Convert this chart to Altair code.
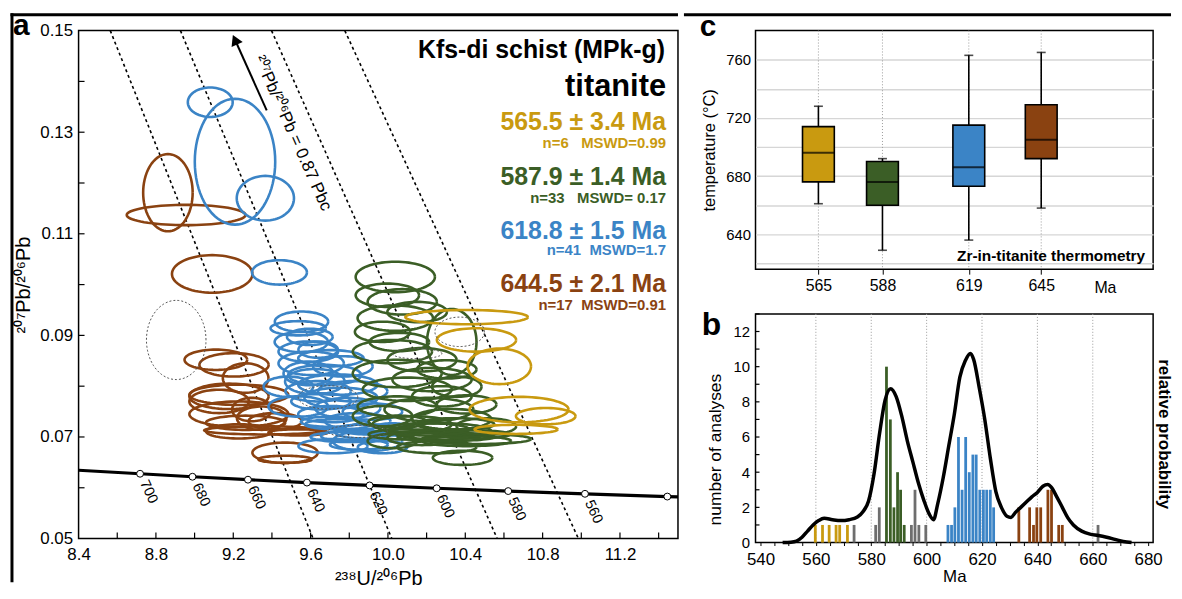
import altair as alt
import numpy as np
import pandas as pd

FONT = "Liberation Sans"
GOLD = "#C99A10"
GREEN = "#3B5E26"
BLUE = "#3B84C6"
BROWN = "#8A4211"
GREYBAR = "#6E6E6E"

# ---------------- panel a : U-Pb data (238U/206Pb, 207Pb/206Pb, 2s semi-axes) ----------------
brown_cx = [8.862, 8.956, 9.091, 9.110, 9.204, 9.264, 9.229, 9.178, 9.127, 9.296, 9.229, 9.347, 9.264, 9.417, 9.357, 9.229, 9.468, 9.468, 9.536]
brown_cy = [0.1181, 0.1137, 0.1021, 0.0852, 0.0842, 0.0816, 0.0783, 0.0780, 0.0770, 0.0754, 0.0745, 0.0737, 0.0728, 0.0731, 0.0713, 0.0711, 0.0669, 0.0656, 0.0709]
brown_rx = [0.128, 0.307, 0.208, 0.162, 0.179, 0.118, 0.256, 0.205, 0.154, 0.102, 0.256, 0.128, 0.205, 0.138, 0.307, 0.169, 0.169, 0.138, 0.154]
brown_ry = [0.0076, 0.0020, 0.0037, 0.0020, 0.0023, 0.0029, 0.0020, 0.0025, 0.0023, 0.0023, 0.0025, 0.0023, 0.0014, 0.0016, 0.0008, 0.0014, 0.0020, 0.0007, 0.0006]

blue_cx = [9.081, 9.209, 9.366, 9.439, 9.553, 9.536, 9.596, 9.552, 9.639, 9.588, 9.705, 9.603, 9.673, 9.622, 9.741, 9.639, 9.757,
           9.654, 9.792, 9.705, 9.844, 9.741, 9.878, 9.792, 9.895, 9.972, 9.536, 9.485, 9.818, 9.920, 9.716, 10.023, 9.588, 9.767,
           9.800, 9.900, 9.700, 9.850]
blue_cy = [0.1359, 0.1242, 0.1170, 0.1024, 0.0927, 0.0914, 0.0897, 0.0887, 0.0872, 0.0868, 0.0855, 0.0845, 0.0822, 0.0809, 0.0803, 0.0790, 0.0777,
           0.0770, 0.0757, 0.0745, 0.0731, 0.0725, 0.0711, 0.0702, 0.0692, 0.0680, 0.0760, 0.0799, 0.0790, 0.0750, 0.0682, 0.0715, 0.0825, 0.0839,
           0.0700, 0.0715, 0.0730, 0.0685]
blue_rx = [0.116, 0.208, 0.148, 0.142, 0.138, 0.143, 0.118, 0.138, 0.102, 0.154, 0.169, 0.169, 0.189, 0.154, 0.205, 0.169, 0.189,
           0.154, 0.169, 0.169, 0.169, 0.169, 0.154, 0.138, 0.179, 0.128, 0.154, 0.128, 0.179, 0.154, 0.179, 0.102, 0.128, 0.154,
           0.200, 0.150, 0.150, 0.150]
blue_ry = [0.0029, 0.0124, 0.0044, 0.0024, 0.0020, 0.0014, 0.0016, 0.0020, 0.0016, 0.0020, 0.0016, 0.0023, 0.0020, 0.0025, 0.0020, 0.0020, 0.0020,
           0.0016, 0.0020, 0.0016, 0.0016, 0.0010, 0.0014, 0.0010, 0.0020, 0.0012, 0.0020, 0.0020, 0.0020, 0.0016, 0.0014, 0.0012, 0.0023, 0.0020,
           0.0010, 0.0010, 0.0010, 0.0010]

green_cx = [10.038, 10.074, 9.997, 10.038, 10.151, 9.972, 10.330, 10.059, 10.023, 10.176, 10.048, 10.228, 10.100, 10.279, 10.048,
            10.212, 10.330, 10.125, 10.279, 10.407, 10.176, 10.253, 10.386, 10.509, 10.458, 10.023, 10.356, 10.407, 9.972, 10.304,
            10.100, 10.300, 10.200, 10.350, 10.050, 10.450]
green_cy = [0.1015, 0.0966, 0.0979, 0.0934, 0.0946, 0.0907, 0.0887, 0.0887, 0.0868, 0.0852, 0.0825, 0.0813, 0.0794, 0.0780, 0.0760,
            0.0754, 0.0735, 0.0725, 0.0711, 0.0692, 0.0698, 0.0680, 0.0659, 0.0721, 0.0696, 0.0692, 0.0799, 0.0764, 0.0741, 0.0833,
            0.0705, 0.0700, 0.0715, 0.0725, 0.0730, 0.0705]
green_rx = [0.205, 0.179, 0.164, 0.195, 0.154, 0.143, 0.128, 0.154, 0.205, 0.179, 0.230, 0.205, 0.230, 0.154, 0.205,
            0.230, 0.205, 0.205, 0.256, 0.230, 0.179, 0.205, 0.154, 0.154, 0.282, 0.128, 0.128, 0.154, 0.154, 0.154,
            0.200, 0.250, 0.220, 0.200, 0.150, 0.180]
green_ry = [0.0030, 0.0025, 0.0023, 0.0025, 0.0020, 0.0020, 0.0065, 0.0018, 0.0023, 0.0023, 0.0027, 0.0023, 0.0023, 0.0020, 0.0020,
            0.0023, 0.0020, 0.0016, 0.0016, 0.0010, 0.0014, 0.0012, 0.0014, 0.0016, 0.0010, 0.0014, 0.0020, 0.0018, 0.0020, 0.0018,
            0.0010, 0.0008, 0.0012, 0.0012, 0.0012, 0.0008]

gold_cx = [10.407, 10.458, 10.576, 10.678, 10.816, 10.663]
gold_cy = [0.0936, 0.0891, 0.0839, 0.0754, 0.0741, 0.0715]
gold_rx = [0.317, 0.205, 0.164, 0.256, 0.154, 0.215]
gold_ry = [0.0014, 0.0023, 0.0035, 0.0025, 0.0016, 0.0009]

gray_cx = [8.905, 10.371, 9.690, 10.151, 9.844]
gray_cy = [0.0891, 0.0907, 0.0778, 0.0864, 0.0711]
gray_rx = [0.154, 0.128, 0.154, 0.128, 0.154]
gray_ry = [0.0078, 0.0029, 0.0023, 0.0010, 0.0012]

# Tera-Wasserburg concordia (age, 238U/206Pb, 207Pb/206Pb)
conc_age = [700, 680, 660, 640, 620, 600, 580, 560, 540]
conc_x = [8.718, 8.989, 9.276, 9.581, 9.905, 10.252, 10.622, 11.019, 11.445]
conc_y = [0.06276, 0.06217, 0.06159, 0.06102, 0.06046, 0.05990, 0.05935, 0.05881, 0.05827]
conc_line_x = [8.40] + conc_x + [11.50]
conc_line_y = [0.06345] + conc_y + [0.05820]
conc_labelled = ["700", "680", "660", "640", "620", "600", "580", "560", ""]

# common-Pb mixing lines (207Pb/206Pb = 0.87) for the four age groups
mix_top_x = [8.564, 8.927, 9.398, 9.777]
mix_bot_x = [9.613, 10.020, 10.565, 10.985]
mix_y = [0.15, 0.05]

arrow_x = [9.373, 9.209]
arrow_y = [0.1343, 0.1482]

xA_ticks = [8.4, 8.6, 8.8, 9.0, 9.2, 9.4, 9.6, 9.8, 10.0, 10.2, 10.4, 10.6, 10.8, 11.0, 11.2, 11.4]
yA_ticks = [0.05, 0.06, 0.07, 0.08, 0.09, 0.10, 0.11, 0.12, 0.13, 0.14, 0.15]

group_ages = ["565.5 ± 3.4 Ma", "587.9 ± 1.4 Ma", "618.8 ± 1.5 Ma", "644.5 ± 2.1 Ma"]
group_stats = ["n=6\u00a0\u00a0\u00a0MSWD=0.99", "n=33\u00a0\u00a0\u00a0MSWD=\u00a00.17",
               "n=41\u00a0\u00a0MSWD=1.7", "n=17\u00a0\u00a0MSWD=0.91"]
group_colors = [GOLD, GREEN, BLUE, BROWN]

# ---------------- panel c : Zr-in-titanite temperatures ----------------
box_age = [565, 588, 619, 645]
box_grp = ["gold", "green", "blue", "brown"]
box_min = [661, 629, 636, 658]
box_q1 = [676, 660, 673, 692]
box_med = [696, 676, 686, 705]
box_q3 = [714, 690, 715, 729]
box_max = [728, 692, 763, 765]
yC_ticks = [620, 640, 660, 680, 700, 720, 740, 760]

# ---------------- panel b : histogram + probability density ----------------
hist_gold_ma = [559.8, 562.4, 564.8, 567.3, 568.6, 571.4]
hist_gold_n = [1, 1, 1, 1, 1, 1]
hist_green_ma = [585.5, 586.9, 588.2, 589.5, 590.6, 591.9]
hist_green_n = [10, 7, 2, 4, 3, 1]
hist_blue_ma = [607.7, 609.0, 610.2, 611.5, 612.8, 614.1, 615.4, 616.7, 617.9, 619.2, 620.5, 621.7, 623.0, 624.2]
hist_blue_n = [1, 1, 2, 6, 3, 6, 4, 5, 5, 3, 3, 3, 3, 2]
hist_brown_ma = [633.3, 637.2, 638.6, 639.8, 641.2, 643.8, 645.1, 647.7, 649.0]
hist_brown_n = [2, 2, 1, 2, 2, 3, 3, 1, 1]
hist_gray_ma = [573.8, 581.6, 582.9, 594.5, 595.8, 597.2, 599.7, 661.9]
hist_gray_n = [1, 1, 2, 1, 3, 1, 1, 1]

pdf_ma = [548, 551, 553, 555, 557, 559, 561, 563, 566, 569, 572, 575, 577, 579, 581, 583, 585, 587, 589, 591,
          593, 595, 597, 599, 601, 602.5, 604, 606, 608, 610, 612, 614, 615.8, 617, 619, 621, 623, 625, 627, 629,
          630.5, 632, 634, 636, 638, 640, 642, 643.8, 645, 647, 649, 651, 653, 656, 659, 662, 665, 668, 671, 674]
pdf_val = [0, 0.02, 0.08, 0.3, 0.65, 1.0, 1.25, 1.38, 1.3, 1.25, 1.3, 1.45, 1.75, 2.35, 3.9, 6.2, 8.1, 8.75, 8.3, 7.2,
           5.8, 4.6, 3.4, 2.4, 1.6, 1.3, 2.2, 3.7, 5.5, 7.3, 9.4, 10.35, 10.75, 10.4, 8.8, 7.0, 4.8, 2.9, 2.0, 1.5,
           1.43, 1.7, 2.0, 2.3, 2.6, 2.85, 3.2, 3.3, 3.15, 2.6, 2.0, 1.4, 1.0, 0.65, 0.48, 0.4, 0.3, 0.18, 0.06, 0]

xB_ticks = list(range(540, 681, 5))
yB_ticks = list(range(0, 14))
xB_grid = [560, 580, 600, 620, 640, 660]

GRP_DOMAIN = ["gold", "green", "blue", "brown", "gray"]
GRP_RANGE = [GOLD, GREEN, BLUE, BROWN, GREYBAR]
grp_color = alt.Color("grp:N", scale=alt.Scale(domain=GRP_DOMAIN, range=GRP_RANGE), legend=None)

one = pd.DataFrame({"t": [""]})


def label(text, x, y, size, color="black", weight="normal", align="left", angle=None, baseline="alphabetic"):
    kw = dict(align=align, baseline=baseline, fontSize=size, fontWeight=weight, color=color, font=FONT)
    if angle:
        kw["angle"] = angle
    return alt.Chart(pd.DataFrame({"t": [text]})).mark_text(**kw).encode(
        x=alt.value(x), y=alt.value(y), text="t:N")


def hline(x1, x2, y, w=3):
    return alt.Chart(one).mark_rule(color="black", strokeWidth=w).encode(
        x=alt.value(x1), x2=alt.value(x2), y=alt.value(y))


def vline(x, y1, y2, w=3):
    return alt.Chart(one).mark_rule(color="black", strokeWidth=w).encode(
        x=alt.value(x), y=alt.value(y1), y2=alt.value(y2))


# ================= PANEL A =================
WA, HA = 603, 511
tpar = np.linspace(0, 2 * np.pi, 73)


def ellipses(name, cx, cy, rx, ry):
    rows = []
    for i in range(len(cx)):
        for k, tt in enumerate(tpar):
            rows.append((f"{name}{i}", name, k, cx[i] + rx[i] * np.cos(tt), cy[i] + ry[i] * np.sin(tt)))
    return rows


cols = ["id", "grp", "k", "x", "y"]
ell_df = pd.DataFrame(ellipses("brown", brown_cx, brown_cy, brown_rx, brown_ry)
                      + ellipses("blue", blue_cx, blue_cy, blue_rx, blue_ry)
                      + ellipses("green", green_cx, green_cy, green_rx, green_ry)
                      + ellipses("gold", gold_cx, gold_cy, gold_rx, gold_ry), columns=cols)
gray_df = pd.DataFrame(ellipses("gray", gray_cx, gray_cy, gray_rx, gray_ry), columns=cols)

xA_axis = alt.Axis(values=xA_ticks, labelExpr="(round(datum.value*10) % 4 == 0) ? format(datum.value, '.1f') : ''",
                   title="²³⁸U/²⁰⁶Pb", tickSize=0, labelPadding=8, titlePadding=6, labelFontSize=17,
                   titleFontSize=20, grid=False, labelFlush=False)
yA_axis = alt.Axis(values=yA_ticks, labelExpr="(round(datum.value*100) % 2 == 1) ? format(datum.value, '.2f') : ''",
                   title="²⁰⁷Pb/²⁰⁶Pb", tickSize=0, labelPadding=6, titlePadding=6, labelFontSize=17,
                   titleFontSize=20, grid=False, labelFlush=False)
XA = alt.X("x:Q", scale=alt.Scale(domain=[8.4, 11.5], nice=False, zero=False), axis=xA_axis)
YA = alt.Y("y:Q", scale=alt.Scale(domain=[0.05, 0.15], nice=False, zero=False), axis=yA_axis)

ell_layer = alt.Chart(ell_df).mark_line(strokeWidth=2.6, clip=True).encode(
    x=XA, y=YA, detail="id:N", order="k:Q", color=grp_color)
gray_layer = alt.Chart(gray_df).mark_line(strokeWidth=1, strokeDash=[2, 2], color="#555555", clip=True).encode(
    x=XA, y=YA, detail="id:N", order="k:Q")

mix_rows = []
for i in range(len(mix_top_x)):
    mix_rows.append((i, mix_top_x[i], mix_y[0]))
    mix_rows.append((i, mix_bot_x[i], mix_y[1]))
mix_df = pd.DataFrame(mix_rows, columns=["id", "x", "y"])
mix_layer = alt.Chart(mix_df).mark_line(color="black", strokeWidth=1.6, strokeDash=[3, 3]).encode(
    x=XA, y=YA, detail="id:N")

conc_line = alt.Chart(pd.DataFrame({"x": conc_line_x, "y": conc_line_y})).mark_line(
    color="black", strokeWidth=3.2, clip=True).encode(x=XA, y=YA)
conc_df = pd.DataFrame({"x": conc_x, "y": conc_y, "lab": conc_labelled})
conc_pts = alt.Chart(conc_df).mark_point(shape="circle", filled=True, fill="white", stroke="black",
                                         strokeWidth=1, size=48, opacity=1).encode(x=XA, y=YA)
conc_lab = alt.Chart(conc_df).mark_text(angle=65, align="left", baseline="middle", dx=8, fontSize=14.5,
                                        font=FONT, color="black").encode(x=XA, y=YA, text="lab:N")

arrow_df = pd.DataFrame({"x": arrow_x, "y": arrow_y})
arrow_line = alt.Chart(arrow_df).mark_line(color="black", strokeWidth=2).encode(x=XA, y=YA)
arrow_head = alt.Chart(arrow_df.iloc[[1]]).mark_point(shape="triangle-up", filled=True, color="black",
                                                      size=150, angle=336, opacity=1).encode(x=XA, y=YA)

xA_tick_layer = alt.Chart(pd.DataFrame({"x": xA_ticks[1:]})).mark_rule(color="black", strokeWidth=1.2).encode(
    x=XA, y=alt.value(HA), y2=alt.value(HA - 6))
yA_tick_layer = alt.Chart(pd.DataFrame({"y": yA_ticks[1:-1]})).mark_rule(color="black", strokeWidth=1.2).encode(
    y=YA, x=alt.value(0), x2=alt.value(6))

textsA = [
    label("Kfs-di schist (MPk-g)", 590, 28, 25, weight="bold", align="right"),
    label("titanite", 591, 66, 31, weight="bold", align="right"),
    label("²⁰⁷Pb/²⁰⁶Pb = 0.87 Pbc", 181, 26, 17, angle=66, baseline="middle"),
]
age_base = [100, 155, 210, 263]
stat_base = [118, 173, 226, 281]
for i in range(4):
    textsA.append(label(group_ages[i], 591, age_base[i], 25, color=group_colors[i], weight="bold", align="right"))
    textsA.append(label(group_stats[i], 591, stat_base[i], 15, color=group_colors[i], weight="bold", align="right"))

decorA = [
    hline(-68.5, WA, -16),
    vline(-67, -17.5, 555),
    label("a", -66, 4, 30, weight="bold"),
]

panel_a = alt.layer(mix_layer, ell_layer, gray_layer, conc_line, conc_pts, conc_lab, arrow_line, arrow_head,
                    xA_tick_layer, yA_tick_layer, *textsA, *decorA).properties(width=WA, height=HA)

# ================= PANEL C =================
WC, HC = 400, 240
xC_axis = alt.Axis(values=box_age, tickSize=5, labelPadding=3, labelFontSize=16, title=None, grid=False,
                   labelFlush=False)
yC_axis = alt.Axis(values=yC_ticks, labelExpr="(datum.value % 40 == 0) ? datum.value : ''", grid=True,
                   gridColor="#d6d6d6", gridWidth=1.4, tickSize=0, labelPadding=5, labelFontSize=15,
                   title="temperature (°C)", titleFontSize=16.5, titlePadding=8, labelFlush=False)
xC_scale = alt.Scale(domain=[544.2, 683.4], nice=False, zero=False)
yC_scale = alt.Scale(domain=[616, 780], nice=False, zero=False)
XC = alt.X("age:Q", scale=xC_scale, axis=xC_axis)


def YC(field):
    return alt.Y(field, type="quantitative", scale=yC_scale, axis=yC_axis)


box_df = pd.DataFrame({"age": box_age, "grp": box_grp, "lo": box_min, "q1": box_q1, "med": box_med,
                       "q3": box_q3, "hi": box_max})
caps_df = pd.DataFrame({"age": box_age + box_age, "v": box_min + box_max})

c_vgrid = alt.Chart(pd.DataFrame({"age": box_age})).mark_rule(color="#9a9a9a", strokeWidth=1,
                                                             strokeDash=[1, 2]).encode(x=XC)
c_whisk = alt.Chart(box_df).mark_rule(color="black", strokeWidth=1.6).encode(x=XC, y=YC("lo"), y2="hi")
c_caps = alt.Chart(caps_df).mark_tick(orient="horizontal", size=9, thickness=1.6, color="black").encode(
    x=XC, y=YC("v"))
c_box = alt.Chart(box_df).mark_bar(size=32, stroke="black", strokeWidth=1.6, opacity=1).encode(
    x=XC, y=YC("q1"), y2="q3", color=grp_color)
c_med = alt.Chart(box_df).mark_tick(orient="horizontal", size=32, thickness=2, color="black").encode(
    x=XC, y=YC("med"))

decorC = [
    hline(-72, 418, -16),
    label("c", -56, 5, 30, weight="bold"),
    label("Zr-in-titanite thermometry", 392, 232, 15.5, weight="bold", align="right"),
    label("Ma", 352, 264, 16, align="center"),
]
panel_c = alt.layer(c_vgrid, c_whisk, c_caps, c_box, c_med, *decorC).properties(width=WC, height=HC)

# ================= PANEL B =================
WB, HB = 400, 230
xB_axis = alt.Axis(values=xB_ticks, labelExpr="(datum.value % 20 == 0) ? datum.value : ''", tickSize=3,
                   labelPadding=6, labelFontSize=17, title="Ma", titleFontSize=17, titlePadding=1, grid=False,
                   labelFlush=False)
yB_axis = alt.Axis(values=yB_ticks, labelExpr="(datum.value % 2 == 0) ? datum.value : ''", tickSize=0,
                   labelPadding=6, labelFontSize=15, title="number of analyses", titleFontSize=17.5,
                   titlePadding=9, titleY=136, grid=False, labelFlush=False)
XB = alt.X("ma:Q", scale=alt.Scale(domain=[540, 680], nice=False, zero=False), axis=xB_axis)
YB = alt.Y("n:Q", scale=alt.Scale(domain=[0, 13], nice=False), axis=yB_axis, stack=None)

hist_df = pd.concat([
    pd.DataFrame({"ma": hist_gold_ma, "n": hist_gold_n, "grp": "gold"}),
    pd.DataFrame({"ma": hist_green_ma, "n": hist_green_n, "grp": "green"}),
    pd.DataFrame({"ma": hist_blue_ma, "n": hist_blue_n, "grp": "blue"}),
    pd.DataFrame({"ma": hist_brown_ma, "n": hist_brown_n, "grp": "brown"}),
    pd.DataFrame({"ma": hist_gray_ma, "n": hist_gray_n, "grp": "gray"}),
], ignore_index=True)

b_vgrid = alt.Chart(pd.DataFrame({"ma": xB_grid})).mark_rule(color="#9a9a9a", strokeWidth=1,
                                                            strokeDash=[1, 2]).encode(x=XB)
b_bars = alt.Chart(hist_df).mark_bar(size=2.8, opacity=1).encode(x=XB, y=YB, color=grp_color)
b_pdf = alt.Chart(pd.DataFrame({"ma": pdf_ma, "n": pdf_val})).mark_line(
    color="black", strokeWidth=3.5, interpolate="monotone").encode(x=XB, y=YB)
b_yticks = alt.Chart(pd.DataFrame({"n": yB_ticks[1:]})).mark_rule(color="black", strokeWidth=1.2).encode(
    y=YB, x=alt.value(0), x2=alt.value(4))

decorB = [
    label("b", -54, 21, 32, weight="bold"),
    label("relative probability", 411, 121, 17, weight="bold", align="center", angle=90, baseline="middle"),
]
panel_b = alt.layer(b_vgrid, b_bars, b_pdf, b_yticks, *decorB).properties(width=WB, height=HB)

right = alt.vconcat(panel_c, panel_b, spacing=11)
chart = alt.hconcat(panel_a, right, spacing=0).properties(
    padding={"left": 0, "top": 0, "right": 0, "bottom": 0}
).configure_view(stroke="black", strokeWidth=1.5).configure_axis(
    labelFont=FONT, titleFont=FONT, labelColor="black", titleColor="black", tickColor="black",
    domain=False, titleFontWeight="normal"
)

chart.save("out.html", embed_options={"renderer": "svg", "actions": False})
